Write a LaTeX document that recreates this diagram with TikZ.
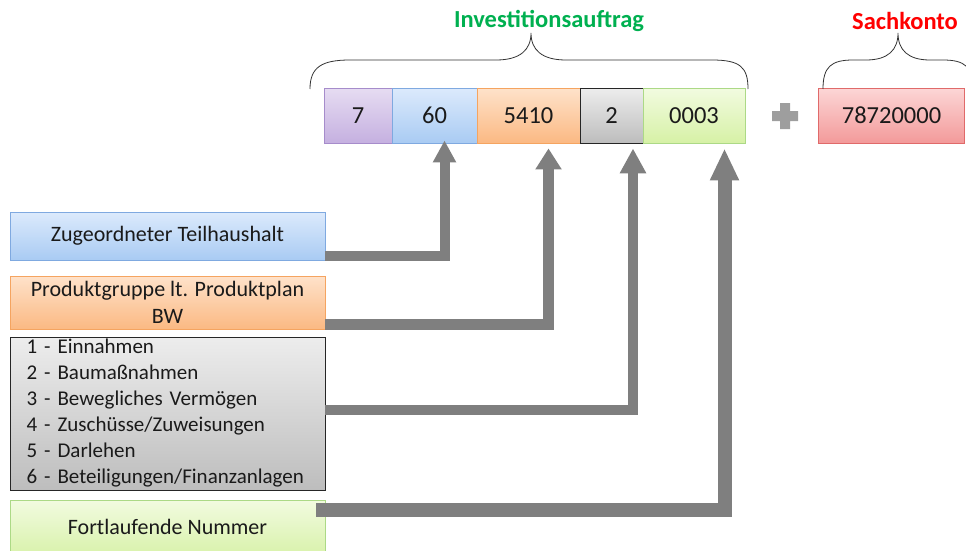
\documentclass[tikz,border=0pt]{standalone}
\usepackage{fontspec}
\setmainfont{Carlito}
\usetikzlibrary{arrows.meta}
\definecolor{arrowgray}{HTML}{7F7F7F}
\definecolor{invgreen}{HTML}{00B050}
\definecolor{skred}{HTML}{FF0000}
\definecolor{txt}{HTML}{1A1A1A}
\definecolor{pTop}{HTML}{E6DCF2}\definecolor{pBot}{HTML}{C5B0E0}\definecolor{pBd}{HTML}{A68CCB}
\definecolor{bTop}{HTML}{DCEAFC}\definecolor{bBot}{HTML}{A9CBF3}\definecolor{bBd}{HTML}{7FA9E0}
\definecolor{oTop}{HTML}{FEE2CA}\definecolor{oBot}{HTML}{FBB983}\definecolor{oBd}{HTML}{F5A460}
\definecolor{gTop}{HTML}{EDEDED}\definecolor{gBot}{HTML}{BDBDBD}\definecolor{gBd}{HTML}{262626}
\definecolor{lTop}{HTML}{F2FBE0}\definecolor{lBot}{HTML}{D6F1A6}\definecolor{lBd}{HTML}{ACD986}
\definecolor{rTop}{HTML}{FCD6D6}\definecolor{rBot}{HTML}{F39A9A}\definecolor{rBd}{HTML}{E06A6A}
\tikzset{
  cell/.style={draw, line width=0.9pt, minimum height=55pt, inner sep=0pt, text=txt, font=\fontsize{24.5}{28}\selectfont},
  purplecell/.style={cell, draw=pBd, top color=pTop, bottom color=pBot},
  bluecell/.style={cell, draw=bBd, top color=bTop, bottom color=bBot},
  orangecell/.style={cell, draw=oBd, top color=oTop, bottom color=oBot},
  graycell/.style={cell, draw=gBd, top color=gTop, bottom color=gBot},
  greencell/.style={cell, draw=lBd, top color=lTop, bottom color=lBot},
  redcell/.style={cell, draw=rBd, top color=rTop, bottom color=rBot},
  leftbox/.style={draw, line width=0.9pt, minimum width=315pt, inner sep=0pt, align=center, text=txt, font=\fontsize{22}{27}\selectfont},
  conn/.style={draw=arrowgray, line join=miter},
  brace/.style={draw=black!80, line width=0.8pt},
  heading/.style={font=\fontsize{24.5}{28}\selectfont\bfseries}
}
\begin{document}
\begin{tikzpicture}[x=1pt,y=-1pt]
\useasboundingbox (0,0) rectangle (966,551);
% top code cells
\node[purplecell, minimum width=68pt] (c7) at (358,115.5) {7};
\node[bluecell, minimum width=85pt] (c60) at (434.5,115.5) {60};
\node[orangecell, minimum width=103pt] (c5410) at (528.5,115.5) {5410};
\node[graycell, minimum width=63pt] (c2) at (611.5,115.5) {2};
\node[greencell, minimum width=102pt] (c0003) at (694,115.5) {0003};
\node[redcell, minimum width=146pt] (sk) at (891.5,115.5) {78720000};
% plus sign
\fill[black!38] (780,103) -- (790,103) -- (790,111) -- (798,111) -- (798,121) -- (790,121) -- (790,129) -- (780,129) -- (780,121) -- (772,121) -- (772,111) -- (780,111) -- cycle;
% braces
\draw[brace] (310,89) .. controls (310,67) and (322,60) .. (350,60) -- (496,60) .. controls (520,60) and (531,50) .. (531,33) .. controls (531,50) and (542,60) .. (566,60) -- (712,60) .. controls (740,60) and (748,67) .. (748,89);
\draw[brace] (823,89) .. controls (823,67) and (831,60) .. (853,60) -- (866,60) .. controls (888,60) and (898,50) .. (898,33) .. controls (898,50) and (908,60) .. (930,60) -- (943,60) .. controls (965,60) and (973,67) .. (973,89);
\node[heading, text=invgreen] (inv) at (549,21) {Investitionsauftrag};
\node[heading, text=skred] (skt) at (905,21) {Sachkonto};
% left boxes
\node[leftbox, draw=bBd, top color=bTop, bottom color=bBot, minimum height=48pt] (zt) at (167.5,236) {Zugeordneter Teilhaushalt};
\node[leftbox, draw=oBd, top color=oTop, bottom color=oBot, minimum height=53pt] (pg) at (167.5,302.5) {Produktgruppe lt. Produktplan\\BW};
\node[leftbox, draw=gBd, top color=gTop, bottom color=gBot, minimum height=153pt, align=left, text width=282pt, inner xsep=16.5pt, font=\fontsize{21}{26}\selectfont] (list) at (167.5,413.5) {1 - Einnahmen\\2 - Baumaßnahmen\\3 - Bewegliches Vermögen\\4 - Zuschüsse/Zuweisungen\\5 - Darlehen\\6 - Beteiligungen/Finanzanlagen};
\node[leftbox, draw=lBd, top color=lTop, bottom color=lBot, minimum height=60pt] (fn) at (167.5,530) {};
\node[text=txt, font=\fontsize{22}{27}\selectfont] (fntext) at (167.5,527) {Fortlaufende Nummer};
% connectors
\draw[conn, line width=10pt, -{Triangle[width=22pt,length=22pt]}] ([yshift=-20pt]zt.east) -| ([xshift=10pt,yshift=3pt]c60.south);
\draw[conn, line width=11pt, -{Triangle[width=25pt,length=21pt]}] ([yshift=-22pt]pg.east) -| ([xshift=20pt,yshift=-5pt]c5410.south);
\draw[conn, line width=10pt, -{Triangle[width=25pt,length=25pt]}] ([yshift=3.5pt]list.east) -| ([xshift=21.5pt,yshift=-5pt]c2.south);
\draw[conn, line width=14pt, -{Triangle[width=27pt,length=32pt]}] ([xshift=-9pt,yshift=20pt]fn.east) -| ([xshift=30.5pt,yshift=-5pt]c0003.south);
\end{tikzpicture}
\end{document}
